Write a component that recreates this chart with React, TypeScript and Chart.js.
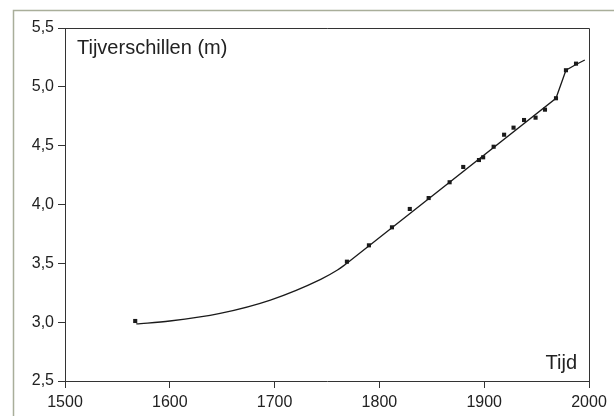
import React, { useEffect, useRef } from "react";
import { Chart, registerables } from "chart.js";

Chart.register(...registerables);

// Measured points (year, tidal range in m)
const pointYears = [1567, 1769, 1790, 1812, 1829, 1847, 1867, 1880, 1895, 1899, 1909, 1919, 1928, 1938, 1949, 1958, 1968.5, 1978, 1987.6];
const pointValues = [3.01, 3.514, 3.653, 3.806, 3.962, 4.055, 4.189, 4.319, 4.378, 4.401, 4.491, 4.593, 4.653, 4.718, 4.738, 4.806, 4.903, 5.141, 5.197];

// Fitted curve, early curved part
const curveYears = [1568, 1600, 1648, 1696, 1744, 1760, 1769];
const curveValues = [2.985, 3.01, 3.075, 3.188, 3.364, 3.443, 3.5];

// Fitted line, later straight part
const lineYears = [1769, 1968.5, 1978, 1987.6, 1996];
const lineValues = [3.5, 4.903, 5.141, 5.19, 5.228];

const xTicks = [1500, 1600, 1700, 1800, 1900, 2000];
const yTicks = [2.5, 3.0, 3.5, 4.0, 4.5, 5.0, 5.5];

const yTitle = "Tijverschillen (m)";
const xTitle = "Tijd";

const FONT = "'Liberation Sans', Arial, sans-serif";

export default function App() {
  const ref = useRef<HTMLCanvasElement>(null);

  useEffect(() => {
    document.body.style.margin = "0";
    const canvas = ref.current;
    if (!canvas) return;

    const decor = {
      id: "decor",
      beforeDraw(chart: any) {
        const ctx = chart.ctx;
        ctx.save();
        ctx.fillStyle = "#ffffff";
        ctx.fillRect(0, 0, chart.width, chart.height);
        ctx.strokeStyle = "#a9ae9a";
        ctx.lineWidth = 1.5;
        ctx.beginPath();
        ctx.moveTo(13.5, chart.height);
        ctx.lineTo(13.5, 10.5);
        ctx.lineTo(chart.width, 10.5);
        ctx.stroke();
        ctx.restore();
      },
      afterDraw(chart: any) {
        const ctx = chart.ctx;
        const { left, top, right, bottom } = chart.chartArea;
        ctx.save();
        ctx.strokeStyle = "#333333";
        ctx.lineWidth = 1;
        ctx.beginPath();
        ctx.moveTo(left, top + 0.5);
        ctx.lineTo(Math.round(right) + 0.5, top + 0.5);
        ctx.lineTo(Math.round(right) + 0.5, bottom);
        ctx.stroke();
        ctx.fillStyle = "#222222";
        ctx.font = `20px ${FONT}`;
        ctx.textBaseline = "alphabetic";
        ctx.textAlign = "left";
        ctx.fillText(yTitle, left + 12, top + 26);
        ctx.textAlign = "right";
        ctx.fillText(xTitle, right - 12, bottom - 12);
        ctx.restore();
      },
    };

    const chart = new Chart(canvas, {
      type: "scatter",
      data: {
        datasets: [
          {
            label: "metingen",
            data: pointYears.map((x, i) => ({ x, y: pointValues[i] })),
            showLine: false,
            pointStyle: "rect",
            pointRadius: 2.9,
            pointBackgroundColor: "#1a1a1a",
            pointBorderWidth: 0,
            order: 0,
          },
          {
            label: "trend vroeg",
            data: curveYears.map((x, i) => ({ x, y: curveValues[i] })),
            showLine: true,
            tension: 0.4,
            cubicInterpolationMode: "monotone",
            borderColor: "#1a1a1a",
            borderWidth: 1.3,
            pointRadius: 0,
            order: 1,
          },
          {
            label: "trend laat",
            data: lineYears.map((x, i) => ({ x, y: lineValues[i] })),
            showLine: true,
            tension: 0,
            borderColor: "#1a1a1a",
            borderWidth: 1.3,
            pointRadius: 0,
            order: 1,
          },
        ],
      } as any,
      options: {
        animation: false,
        responsive: false,
        maintainAspectRatio: false,
        layout: { padding: { top: 28, right: 25, left: 0, bottom: 0 } },
        plugins: {
          legend: { display: false },
          tooltip: { enabled: false },
          title: { display: false },
        },
        scales: {
          x: {
            type: "linear",
            min: xTicks[0],
            max: xTicks[xTicks.length - 1],
            afterBuildTicks: (s: any) => {
              s.ticks = xTicks.map((v) => ({ value: v }));
            },
            afterFit: (s: any) => {
              s.height = 35;
            },
            ticks: {
              callback: (v: any) => String(v),
              font: { family: FONT, size: 16 },
              color: "#222222",
              padding: 5,
              maxRotation: 0,
              autoSkip: false,
            },
            grid: {
              drawOnChartArea: false,
              drawTicks: true,
              tickLength: 7,
              color: "#333333",
            },
            border: { display: true, color: "#333333", width: 1 },
          },
          y: {
            type: "linear",
            min: yTicks[0],
            max: yTicks[yTicks.length - 1],
            afterBuildTicks: (s: any) => {
              s.ticks = yTicks.map((v) => ({ value: v }));
            },
            afterFit: (s: any) => {
              s.width = 65;
            },
            ticks: {
              callback: (v: any) => Number(v).toFixed(1).replace(".", ","),
              font: { family: FONT, size: 16 },
              color: "#222222",
              padding: 4,
              autoSkip: false,
            },
            grid: {
              drawOnChartArea: false,
              drawTicks: true,
              tickLength: 7,
              color: "#333333",
            },
            border: { display: true, color: "#333333", width: 1 },
          },
        },
      } as any,
      plugins: [decor],
    });

    return () => chart.destroy();
  }, []);

  return (
    <div style={{ position: "absolute", left: 0, top: 0, width: 614, height: 416 }}>
      <canvas ref={ref} width={614} height={416} style={{ display: "block", width: 614, height: 416 }} />
    </div>
  );
}
